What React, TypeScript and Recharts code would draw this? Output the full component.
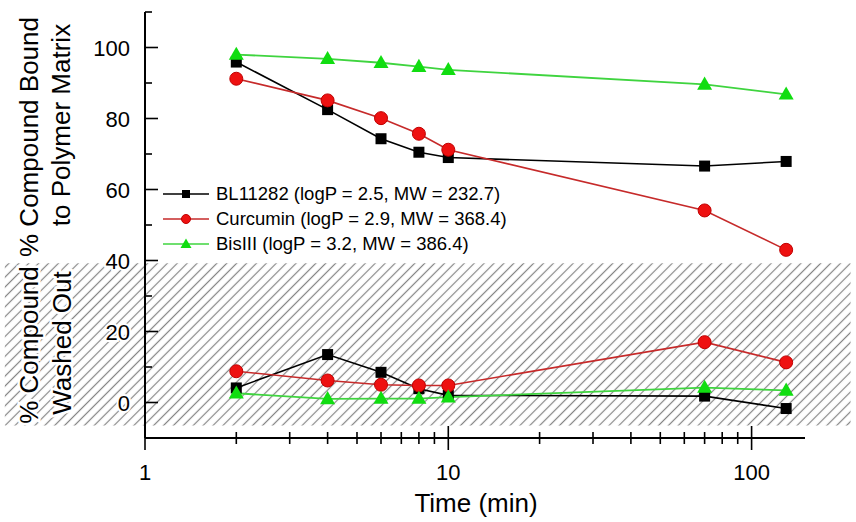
import { LineChart, Line, XAxis, YAxis, ReferenceArea, Legend } from 'recharts'

const times = [2, 4, 6, 8, 10, 70, 130]
const blBound = [95.9, 82.5, 74.3, 70.5, 69.0, 66.6, 67.9]
const blWashed = [4.1, 13.5, 8.5, 3.9, 2.0, 1.8, -1.7]
const curBound = [91.2, 85.1, 80.1, 75.7, 71.2, 54.1, 43.0]
const curWashed = [8.8, 6.2, 5.0, 4.8, 4.8, 17.0, 11.3]
const bisBound = [98.0, 96.8, 95.7, 94.6, 93.7, 89.6, 86.8]
const bisWashed = [2.6, 1.0, 1.1, 1.1, 1.5, 4.2, 3.4]

const seriesNames = [
  'BL11282 (logP = 2.5, MW = 232.7)',
  'Curcumin (logP = 2.9, MW = 368.4)',
  'BisIII (logP = 3.2, MW = 386.4)',
]

const xTicks = [1, 2, 3, 4, 5, 6, 7, 8, 9, 10, 20, 30, 40, 50, 60, 70, 80, 90, 100]
const xLabels = [1, 10, 100]
const yTicks = [-10, 0, 10, 20, 30, 40, 50, 60, 70, 80, 90, 100, 110]
const yLabels = [0, 20, 40, 60, 80, 100]
// washed-out band (y) and how far the hatch runs past the plot (x, in minutes)
const washedBand = [-6.5, 39.2]
const hatchSpan = [0.345, 212]

const FONT = '"Liberation Sans", Arial, sans-serif'

const toPoints = (ys: number[]) => times.map((t, i) => ({ t, v: ys[i] }))

type DotProps = { cx?: number; cy?: number; index?: number }

function squareDot(size: number, fill: string) {
  return (p: DotProps) =>
    p.cx == null || p.cy == null ? <g key={p.index} /> : (
      <rect key={p.index} x={p.cx - size / 2} y={p.cy - size / 2} width={size} height={size} fill={fill} />
    )
}
function circleDot(r: number, fill: string, stroke: string) {
  return (p: DotProps) =>
    p.cx == null || p.cy == null ? <g key={p.index} /> : (
      <circle key={p.index} cx={p.cx} cy={p.cy} r={r} fill={fill} stroke={stroke} strokeWidth={1} />
    )
}
function triangleDot(w: number, fill: string) {
  return (p: DotProps) => {
    if (p.cx == null || p.cy == null) return <g key={p.index} />
    const h = w * 0.87
    const pts = `${p.cx},${p.cy - h * 0.6} ${p.cx - w / 2},${p.cy + h * 0.4} ${p.cx + w / 2},${p.cy + h * 0.4}`
    return <polygon key={p.index} points={pts} fill={fill} />
  }
}

const BLACK = '#000000'
const RED_LINE = '#c62a2a'
const RED_FILL = '#ee1111'
const RED_EDGE = '#c00000'
const GREEN_LINE = '#3fd43f'
const GREEN_FILL = '#11dd11'

function XTick({ x, y, payload }: { x?: number; y?: number; payload?: { value: number } }) {
  if (x == null || y == null || !payload) return null
  const major = xLabels.includes(payload.value)
  const len = major ? 12 : 6
  return (
    <g>
      <line x1={x} x2={x} y1={y - len} y2={y + len} stroke="#000" strokeWidth={1.6} />
      {major && (
        <text x={x} y={y + 42} textAnchor="middle" fontSize={22} fontFamily={FONT} fill="#000">
          {payload.value}
        </text>
      )}
    </g>
  )
}

function YTick({ x, y, payload }: { x?: number; y?: number; payload?: { value: number } }) {
  if (x == null || y == null || !payload) return null
  const major = yLabels.includes(payload.value)
  return (
    <g>
      <line x1={x} x2={x + (major ? 13 : 7)} y1={y} y2={y} stroke="#000" strokeWidth={1.6} />
      {major && (
        <text
          x={x - 15} y={y + 8} textAnchor="end" fontSize={22} fontFamily={FONT} fill="#000"
          stroke="#fff" strokeWidth={4} paintOrder="stroke"
        >
          {payload.value}
        </text>
      )}
    </g>
  )
}

function LegendSymbol({ idx }: { idx: number }) {
  const color = [BLACK, RED_LINE, GREEN_LINE][idx]
  return (
    <svg width={46} height={14} style={{ display: 'block' }}>
      <line x1={0} x2={46} y1={7} y2={7} stroke={color} strokeWidth={1.6} />
      {idx === 0 && <rect x={19} y={3} width={8} height={8} fill={BLACK} />}
      {idx === 1 && <circle cx={23} cy={7} r={4.5} fill={RED_FILL} stroke={RED_EDGE} />}
      {idx === 2 && <polygon points="23,1.5 17.5,11 28.5,11" fill={GREEN_FILL} />}
    </svg>
  )
}

function LegendBox() {
  return (
    <div style={{ fontFamily: FONT, fontSize: 18.5, color: '#000' }}>
      {seriesNames.map((name, i) => (
        <div key={name} style={{ display: 'flex', alignItems: 'center', height: 24.7 }}>
          <LegendSymbol idx={i} />
          <span style={{ marginLeft: 7, whiteSpace: 'nowrap' }}>{name}</span>
        </div>
      ))}
    </div>
  )
}

const titleStyle = {
  fontFamily: FONT, fontSize: 26, fill: '#000', stroke: '#fff', strokeWidth: 5, paintOrder: 'stroke' as const,
}

export default function App() {
  return (
    <div style={{ position: 'absolute', left: 0, top: 0, width: 856, height: 522, background: '#fff' }}>
      <LineChart width={856} height={522} margin={{ top: 12, right: 51, bottom: 0, left: 0 }}>
        <ReferenceArea
          x1={hatchSpan[0]} x2={hatchSpan[1]} y1={washedBand[0]} y2={washedBand[1]}
          ifOverflow="visible" fill="url(#washHatch)" fillOpacity={1} stroke="none"
        />
        <XAxis
          dataKey="t" type="number" scale="log" domain={[1, 150]} ticks={xTicks} interval={0}
          tick={<XTick />} tickSize={0} tickMargin={0} height={84} allowDataOverflow
          axisLine={{ stroke: '#000', strokeWidth: 2 }} tickLine={false}
        />
        <YAxis
          type="number" domain={[-10, 110]} ticks={yTicks} interval={0} tick={<YTick />}
          tickSize={0} tickMargin={0} width={145} allowDataOverflow
          axisLine={{ stroke: '#000', strokeWidth: 2 }} tickLine={false}
        />
        <Legend
          layout="vertical" align="center" verticalAlign="middle" content={<LegendBox />}
          wrapperStyle={{ position: 'absolute', left: 163, top: 182, width: 360 }}
        />
        <Line data={toPoints(blBound)} dataKey="v" stroke={BLACK} strokeWidth={1.6} dot={squareDot(11, BLACK)} isAnimationActive={false} />
        <Line data={toPoints(curBound)} dataKey="v" stroke={RED_LINE} strokeWidth={1.6} dot={circleDot(6.5, RED_FILL, RED_EDGE)} isAnimationActive={false} />
        <Line data={toPoints(bisBound)} dataKey="v" stroke={GREEN_LINE} strokeWidth={1.8} dot={triangleDot(15, GREEN_FILL)} isAnimationActive={false} />
        <Line data={toPoints(blWashed)} dataKey="v" stroke={BLACK} strokeWidth={1.6} dot={squareDot(11, BLACK)} isAnimationActive={false} />
        <Line data={toPoints(curWashed)} dataKey="v" stroke={RED_LINE} strokeWidth={1.6} dot={circleDot(6.5, RED_FILL, RED_EDGE)} isAnimationActive={false} />
        <Line data={toPoints(bisWashed)} dataKey="v" stroke={GREEN_LINE} strokeWidth={1.8} dot={triangleDot(15, GREEN_FILL)} isAnimationActive={false} />
      </LineChart>
      <svg width={856} height={522} style={{ position: 'absolute', left: 0, top: 0, pointerEvents: 'none' }}>
        <defs>
          <pattern id="washHatch" width={7} height={7} patternUnits="userSpaceOnUse" patternTransform="rotate(45)">
            <rect width={7} height={7} fill="#fff" />
            <line x1={3.5} x2={3.5} y1={0} y2={7} stroke="#858585" strokeWidth={1.2} />
          </pattern>
        </defs>
        <text x={38} y={137} transform="rotate(-90 38 137)" textAnchor="middle" style={titleStyle}>% Compound Bound</text>
        <text x={70} y={125} transform="rotate(-90 70 125)" textAnchor="middle" style={titleStyle}>to Polymer Matrix</text>
        <text x={38} y={345} transform="rotate(-90 38 345)" textAnchor="middle" style={titleStyle}>% Compound</text>
        <text x={71} y={343} transform="rotate(-90 71 343)" textAnchor="middle" style={titleStyle}>Washed Out</text>
        <text x={476} y={512} textAnchor="middle" style={{ ...titleStyle, stroke: 'none' }}>Time (min)</text>
      </svg>
    </div>
  )
}
